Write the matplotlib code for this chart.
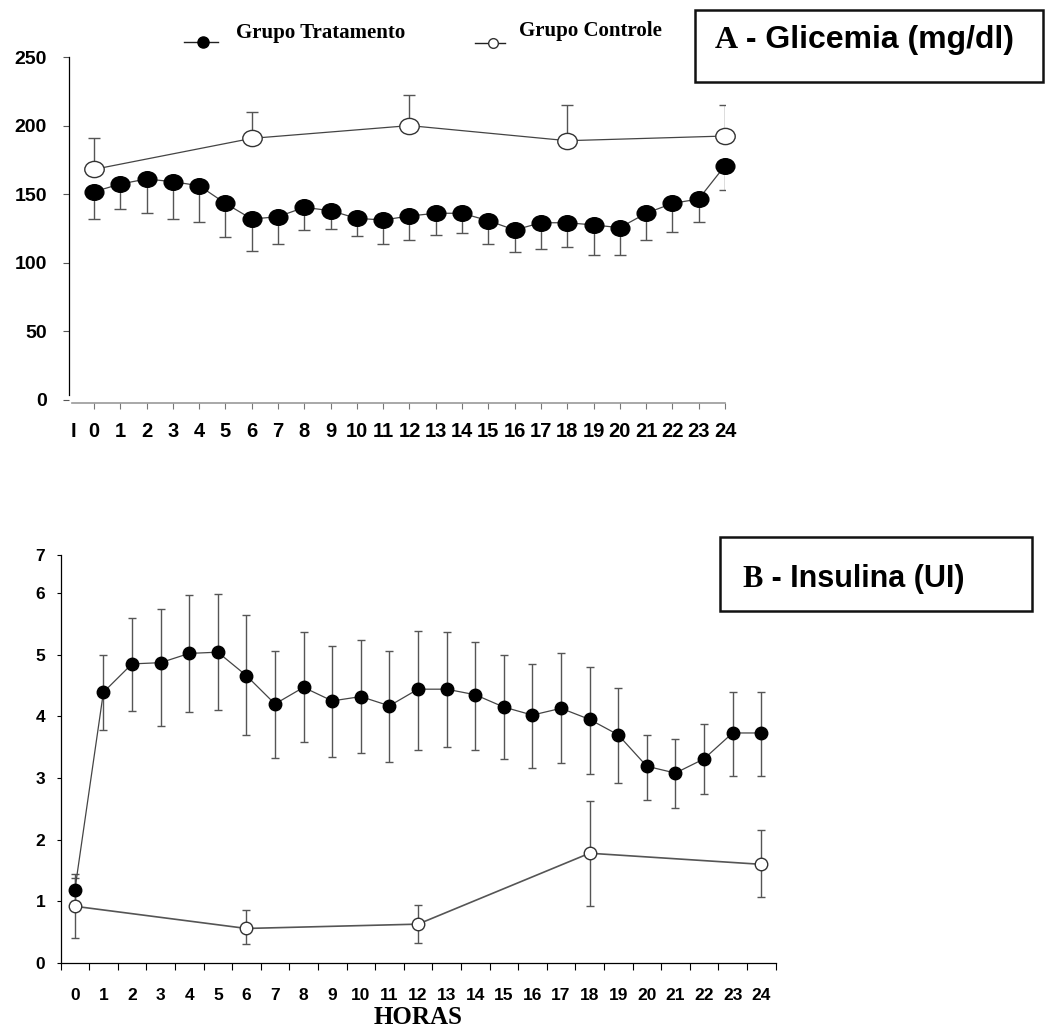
import numpy as np
import matplotlib
matplotlib.use('Agg')
import matplotlib.pyplot as plt
from matplotlib.path import Path
from matplotlib.transforms import Affine2D
from matplotlib.lines import Line2D
from matplotlib.patches import Rectangle

# Dados - A: Glicemia (mg/dl)
horas = np.arange(25)
gli_trat = np.array([151.8, 157.4, 161.1, 159.1, 156.2, 143.3, 131.9, 133.6, 140.4, 138.0,
                     132.4, 131.2, 134.1, 136.1, 136.1, 130.7, 123.9, 129.2, 129.2, 127.6,
                     125.6, 136.1, 143.3, 146.5, 170.8])
gli_trat_inf = np.array([131.9, 139.0, 136.1, 131.9, 129.5, 119.0, 108.6, 113.7, 123.9, 124.4,
                         119.5, 113.7, 116.6, 120.3, 121.5, 113.5, 107.6, 109.8, 111.7, 105.7,
                         105.7, 116.6, 122.2, 129.5, 153.1])
horas_ctrl = np.array([0, 6, 12, 18, 24])
gli_ctrl = np.array([168.1, 190.7, 200.0, 189.0, 192.4])
gli_ctrl_sup = np.array([190.7, 210.2, 222.3, 215.0, 215.0])

# Dados - B: Insulina (UI)
ins_trat = np.array([1.18, 4.39, 4.85, 4.87, 5.02, 5.04, 4.66, 4.20, 4.47, 4.25, 4.32, 4.17,
                     4.44, 4.44, 4.35, 4.15, 4.02, 4.13, 3.95, 3.70, 3.19, 3.08, 3.31, 3.73, 3.73])
ins_trat_sup = np.array([1.45, 4.99, 5.60, 5.74, 5.97, 5.98, 5.64, 5.06, 5.37, 5.14, 5.23, 5.06,
                         5.39, 5.37, 5.20, 4.99, 4.85, 5.02, 4.80, 4.46, 3.70, 3.63, 3.87, 4.39, 4.39])
ins_trat_inf = np.array([1.00, 3.78, 4.08, 3.85, 4.07, 4.10, 3.69, 3.32, 3.58, 3.34, 3.41, 3.26,
                         3.46, 3.51, 3.46, 3.31, 3.17, 3.24, 3.07, 2.92, 2.65, 2.51, 2.74, 3.04, 3.04])
ins_ctrl = np.array([0.92, 0.56, 0.63, 1.78, 1.60])
ins_ctrl_sup = np.array([1.38, 0.86, 0.94, 2.62, 2.15])
ins_ctrl_inf = np.array([0.40, 0.30, 0.33, 0.92, 1.07])

W, H = 1055, 1031
def fx(px):
    return px / W
def fy(py):
    return 1 - py / H

sans = 'Liberation Sans'
serif = 'Liberation Serif'

fig = plt.figure(figsize=(10.55, 10.31), dpi=100)

# marcador eliptico (mais largo que alto)
elipse = Path.unit_circle().transformed(Affine2D().scale(1.2, 1.0))

# ---------------- Grafico A ----------------
axA = fig.add_axes([fx(69), fy(400), (725 - 69) / W, (400 - 57) / H])
axA.set_xlim(-0.95, 24)
axA.set_ylim(0, 250)

axA.errorbar(horas, gli_trat, yerr=[gli_trat - gli_trat_inf, np.zeros(25)], fmt='none',
             ecolor='#555555', elinewidth=1, capsize=4, capthick=1, zorder=2)
axA.plot(horas, gli_trat, '-', color='#444444', lw=0.9, marker=elipse, ms=13.5,
         mfc='black', mec='black', zorder=3, clip_on=False)

axA.errorbar(horas_ctrl, gli_ctrl, yerr=[np.zeros(5), gli_ctrl_sup - gli_ctrl], fmt='none',
             ecolor='#555555', elinewidth=1, capsize=4, capthick=1, zorder=2)
axA.plot(horas_ctrl, gli_ctrl, '-', color='#444444', lw=0.9, marker=elipse, ms=14,
         mfc='white', mec='#333333', mew=1, zorder=3, clip_on=False)

for s in ['top', 'right']:
    axA.spines[s].set_visible(False)
axA.spines['left'].set_bounds(4, 250)
axA.spines['left'].set_linewidth(0.9)
axA.spines['bottom'].set_position(('outward', 2))
axA.spines['bottom'].set_bounds(-0.85, 24)
axA.spines['bottom'].set_color('#999999')
axA.spines['bottom'].set_linewidth(1.2)

axA.set_yticks([0, 50, 100, 150, 200, 250])
axA.set_yticklabels(['0', '50', '100', '150', '200', '250'], fontfamily=sans,
                    fontweight='bold', fontsize=14)
axA.tick_params(axis='y', direction='out', length=4, width=0.8, color='#555555', pad=12)
axA.set_xticks(horas)
axA.set_xticklabels([str(h) for h in horas], fontfamily=sans, fontweight='bold', fontsize=14.5)
axA.tick_params(axis='x', direction='out', length=4, width=0.8, color='#777777', pad=10)
axA.set_xticks([-0.8], minor=True)
axA.set_xticklabels(['I'], minor=True, fontfamily=sans, fontweight='bold', fontsize=14.5)
axA.tick_params(axis='x', which='minor', length=0, pad=14)

# ---------------- Grafico B ----------------
ytop = (963 - 555) / 61.67
axB = fig.add_axes([fx(60.5), fy(963), (775.5 - 60.5) / W, (963 - 555) / H])
axB.set_xlim(-0.5, 24.5)
axB.set_ylim(0, ytop)

axB.errorbar(horas, ins_trat, yerr=[ins_trat - ins_trat_inf, ins_trat_sup - ins_trat], fmt='none',
             ecolor='#555555', elinewidth=1, capsize=3, capthick=1, zorder=2)
axB.plot(horas, ins_trat, '-', color='#444444', lw=0.9, marker='o', ms=9,
         mfc='black', mec='black', zorder=4, clip_on=False)

axB.errorbar(horas_ctrl, ins_ctrl, yerr=[ins_ctrl - ins_ctrl_inf, ins_ctrl_sup - ins_ctrl], fmt='none',
             ecolor='#555555', elinewidth=1, capsize=3, capthick=1, zorder=2)
axB.plot(horas_ctrl, ins_ctrl, '-', color='#555555', lw=1.2, marker='o', ms=9,
         mfc='white', mec='#333333', mew=1, zorder=3, clip_on=False)

for s in ['top', 'right']:
    axB.spines[s].set_visible(False)
axB.spines['left'].set_linewidth(0.9)
axB.spines['bottom'].set_linewidth(0.9)

axB.set_yticks([0, 1, 2, 3, 4, 5, 6, ytop])
axB.set_yticklabels(['0', '1', '2', '3', '4', '5', '6', '7'], fontfamily=sans,
                    fontweight='bold', fontsize=12.5)
axB.tick_params(axis='y', direction='out', length=3, width=0.8, pad=8)
axB.set_xticks(horas)
axB.set_xticklabels([str(h) for h in horas], fontfamily=sans, fontweight='bold', fontsize=12.5)
axB.tick_params(axis='x', which='major', length=0, pad=18)
axB.set_xticks(np.arange(-0.5, 25, 1), minor=True)
axB.tick_params(axis='x', which='minor', direction='out', length=5, width=0.8)

fig.text(fx(418), fy(1017), 'HORAS', fontfamily=serif, fontweight='bold', fontsize=18,
         ha='center', va='center')

# ---------------- Legenda ----------------
fig.add_artist(Line2D([fx(184), fx(218)], [fy(42), fy(42)], color='#222222', lw=1,
                      transform=fig.transFigure))
fig.add_artist(Line2D([fx(203)], [fy(42)], marker='o', ms=8, mfc='black', mec='black',
                      transform=fig.transFigure))
fig.text(fx(236), fy(33), 'Grupo Tratamento', fontfamily=serif, fontweight='bold',
         fontsize=15, ha='left', va='center')
fig.add_artist(Line2D([fx(475), fx(505)], [fy(43), fy(43)], color='#222222', lw=1,
                      transform=fig.transFigure))
fig.add_artist(Line2D([fx(493)], [fy(43)], marker='o', ms=7, mfc='white', mec='#333333',
                      transform=fig.transFigure))
fig.text(fx(519), fy(31), 'Grupo Controle', fontfamily=serif, fontweight='bold',
         fontsize=15, ha='left', va='center')

# ---------------- Caixas de titulo ----------------
fig.add_artist(Rectangle((fx(695), fy(82)), (1043 - 695) / W, (82 - 10) / H, fill=False,
                         lw=1.8, ec='#111111', transform=fig.transFigure))
fig.text(fx(715), fy(48), 'A', fontfamily=serif, fontweight='bold', fontsize=23, va='baseline')
fig.text(fx(737), fy(48), ' - Glicemia (mg/dl)', fontfamily=sans, fontweight='bold',
         fontsize=23, va='baseline')

fig.add_artist(Rectangle((fx(720), fy(611)), (1032 - 720) / W, (611 - 537) / H, fill=False,
                         lw=1.8, ec='#111111', transform=fig.transFigure))
fig.text(fx(742), fy(587), 'B', fontfamily=serif, fontweight='bold', fontsize=22, va='baseline')
fig.text(fx(763), fy(587), ' - Insulina (UI)', fontfamily=sans, fontweight='bold',
         fontsize=22, va='baseline')

fig.savefig('out.png', dpi=100)
